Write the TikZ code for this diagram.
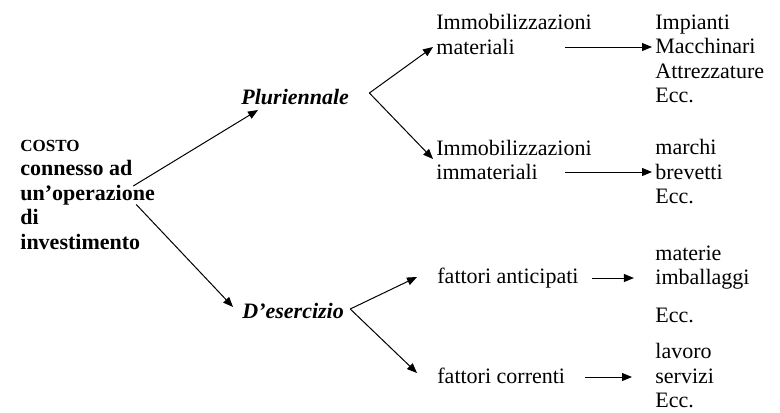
\documentclass[tikz,border=0pt]{standalone}
\usepackage{fontspec}
\setmainfont{Liberation Serif}
\usetikzlibrary{arrows.meta,calc}

\begin{document}
\begin{tikzpicture}[x=0.5pt,y=-0.5pt,
  txt/.style={inner sep=0pt,anchor=west,align=left,font=\fontsize{11}{12.25}\selectfont},
  kind/.style={txt,font=\fontsize{11}{12.25}\selectfont\bfseries\itshape},
  arr/.style={line width=0.5pt,-{Triangle[length=5pt,width=4pt]}}]
  \useasboundingbox (0,0) rectangle (780,412);
  % left block
  \node[txt,font=\fontsize{11}{12.25}\selectfont\bfseries] (costo) at (20,194.5)
    {{\fontsize{8.5}{10}\selectfont COSTO}\\connesso ad\\un’operazione\\di\\investimento};
  \node[kind] (plur) at (241,97) {Pluriennale};
  \node[kind] (eser) at (242,311) {D’esercizio};
  % middle column
  \node[txt] (immA) at (436,34.5) {Immobilizzazioni\\materiali};
  \node[txt] (immB) at (436,160) {Immobilizzazioni\\immateriali};
  \node[txt] (fant) at (437,278) {fattori anticipati};
  \node[txt] (fcor) at (437,376) {fattori correnti};
  % right column
  \node[txt] (matL) at (655,59) {Impianti\\Macchinari\\Attrezzature\\Ecc.};
  \node[txt] (immL) at (655,172) {marchi\\brevetti\\Ecc.};
  \node[txt] (antL) at (655,284) {materie\\imballaggi\\[6.5pt]Ecc.};
  \node[txt] (corL) at (655,376) {lavoro\\servizi\\Ecc.};
  \coordinate (pv) at ($(plur.east)+(20,-4)$);
  \coordinate (ev) at ($(eser.east)+(6,-2)$);
  % arrows
  \draw[arr] ($(costo.east)+(-22,-8.5)$) -- ($(plur.west)+(17,13)$);
  \draw[arr] ($(costo.east)+(-19,10)$) -- ($(eser.west)+(-9,-4)$);
  \draw[arr] (pv) -- ($(immA.west)+(-3,12.5)$);
  \draw[arr] (pv) -- ($(immB.west)+(-3,-1)$);
  \draw[arr] (ev) -- ($(fant.west)+(-20,-1)$);
  \draw[arr] (ev) -- ($(fcor.west)+(-20,-3)$);
  \draw[arr] ($(immA.west)+(129,12.5)$) -- ($(matL.west)+(-3,-12)$);
  \draw[arr] ($(immB.west)+(129,12)$) -- ($(immL.west)+(-3,0)$);
  \draw[arr] ($(fant.east)+(13,0)$) -- ($(fant.east)+(55,0)$);
  \draw[arr] ($(fcor.east)+(20,1)$) -- ($(corL.west)+(-23,1)$);
\end{tikzpicture}
\end{document}
